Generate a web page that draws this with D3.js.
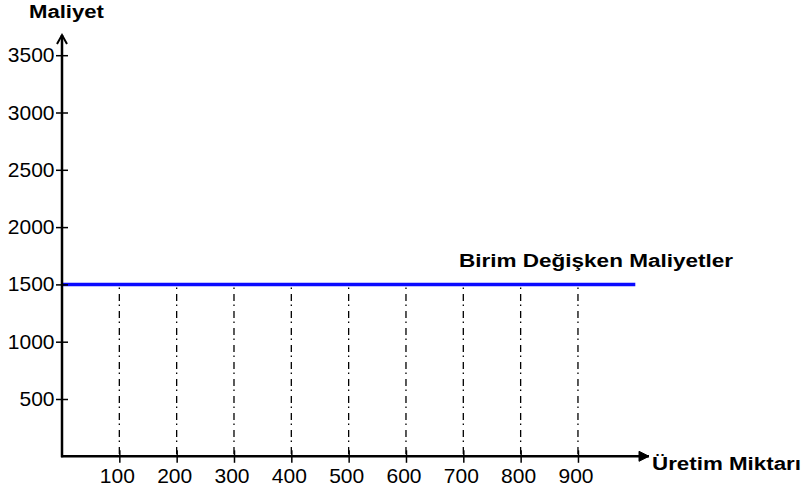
<!DOCTYPE html>
<html>
<head>
<meta charset="utf-8">
<script src="https://cdn.jsdelivr.net/npm/d3@7"></script>
<style>
  html, body { margin: 0; padding: 0; background: #fff; }
  svg { display: block; }
  text { font-family: "Liberation Sans", Arial, sans-serif; fill: #000; }
</style>
</head>
<body>
<svg id="chart" width="803" height="493"></svg>
<script>
// ---- data ----
const yTicks = [500, 1000, 1500, 2000, 2500, 3000, 3500];
const xTicks = [100, 200, 300, 400, 500, 600, 700, 800, 900];
const lineX = [0, 1000];
const lineCost = [1500, 1500];
const dropLines = [100, 200, 300, 400, 500, 600, 700, 800, 900];
const yTitle = "Maliyet";
const xTitle = "Üretim Miktarı";
const seriesLabel = "Birim Değişken Maliyetler";

// ---- scales ----
const x = d3.scaleLinear().domain([0, 1000]).range([62, 635.3]);
const y = d3.scaleLinear().domain([0, 3500]).range([456.3, 55.2]);
const svg = d3.select("#chart");

// drop lines (dash-dot)
svg.append("g").selectAll("line").data(dropLines).join("line")
  .attr("x1", d => x(d)).attr("x2", d => x(d))
  .attr("y1", y(1500)).attr("y2", y(0))
  .attr("stroke", "#000").attr("stroke-width", 1.3)
  .attr("stroke-dasharray", "7,3.5,1.5,5")
  .attr("stroke-dashoffset", 7.3);

// series line
const pts = lineX.map((v, i) => [v, lineCost[i]]);
svg.append("path").datum(pts)
  .attr("d", d3.line().x(d => x(d[0])).y(d => y(d[1])))
  .attr("stroke", "#0a0aff").attr("stroke-width", 3.5).attr("fill", "none");

// y axis
const yAxis = d3.axisLeft(y).tickValues(yTicks).tickSizeInner(6).tickSizeOuter(0).tickPadding(1.5).tickFormat(d3.format("d"));
const gy = svg.append("g").attr("transform", `translate(${x(0)},0)`).call(yAxis);
gy.select(".domain").remove();
gy.selectAll(".tick line").attr("x1", 6).attr("x2", -6).attr("stroke", "#000").attr("stroke-width", 1.5);
gy.selectAll(".tick text").attr("font-size", 21).attr("dy", "0.31em").attr("font-family", "Liberation Sans, Arial, sans-serif").attr("fill", "#000");

// x axis
const xAxis = d3.axisBottom(x).tickValues(xTicks).tickSizeInner(6).tickSizeOuter(0).tickPadding(5.5).tickFormat(d3.format("d"));
const gx = svg.append("g").attr("transform", `translate(0,${y(0)})`).call(xAxis);
gx.select(".domain").remove();
gx.selectAll(".tick line").attr("y1", -6).attr("y2", 6.5).attr("stroke", "#000").attr("stroke-width", 1.5);
gx.selectAll(".tick text").attr("font-size", 21).attr("dx", -2.5).attr("font-family", "Liberation Sans, Arial, sans-serif").attr("fill", "#000");

// axis lines with arrows
const yTop = 35, xRight = 649;
svg.append("line").attr("x1", x(0)).attr("x2", x(0)).attr("y1", y(0) + 1).attr("y2", yTop)
  .attr("stroke", "#000").attr("stroke-width", 2.5);
svg.append("line").attr("x1", x(0) - 1).attr("x2", xRight).attr("y1", y(0)).attr("y2", y(0))
  .attr("stroke", "#000").attr("stroke-width", 2.5);
svg.append("path")
  .attr("d", `M${x(0) - 5},${yTop + 9}L${x(0)},${yTop}L${x(0) + 5},${yTop + 9}`)
  .attr("fill", "none").attr("stroke", "#000").attr("stroke-width", 2);
svg.append("path")
  .attr("d", `M${xRight - 10},${y(0) - 5}L${xRight},${y(0)}L${xRight - 10},${y(0) + 5}Z`)
  .attr("fill", "#000").attr("stroke", "#000").attr("stroke-width", 1);

// titles
svg.append("text").attr("x", 29).attr("y", 18).attr("font-size", 18).attr("font-weight", "bold")
  .attr("textLength", 75).attr("lengthAdjust", "spacingAndGlyphs").text(yTitle);
svg.append("text").attr("x", 652).attr("y", 470).attr("font-size", 18).attr("font-weight", "bold")
  .attr("textLength", 149).attr("lengthAdjust", "spacingAndGlyphs").text(xTitle);
svg.append("text").attr("x", 459).attr("y", 267).attr("font-size", 18).attr("font-weight", "bold")
  .attr("textLength", 274).attr("lengthAdjust", "spacingAndGlyphs").text(seriesLabel);
</script>
</body>
</html>
